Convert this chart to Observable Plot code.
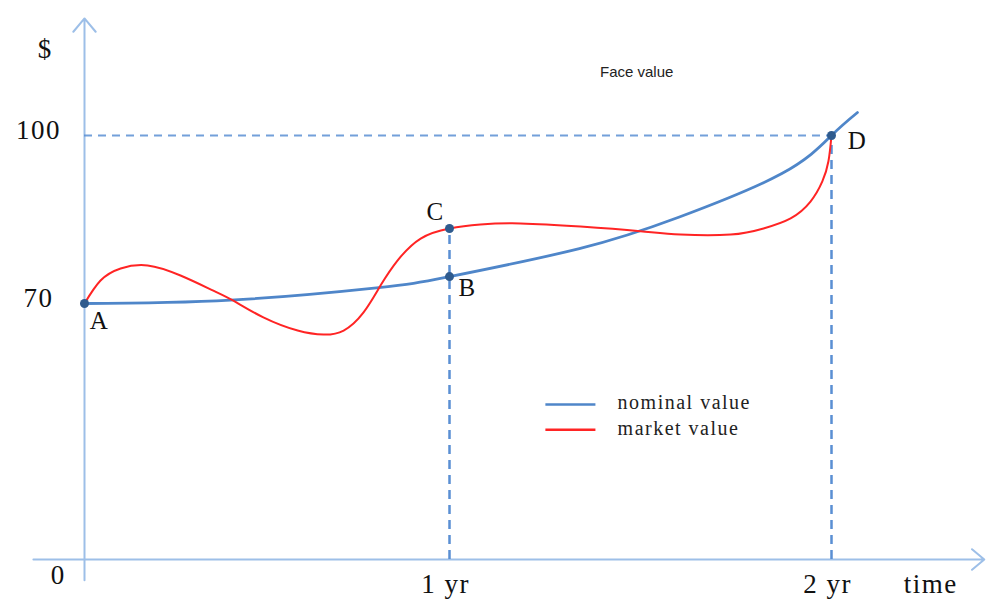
<!DOCTYPE html>
<html><head><meta charset="utf-8">
<script src="https://cdn.jsdelivr.net/npm/d3@7"></script>
<script src="https://cdn.jsdelivr.net/npm/@observablehq/plot@0.6"></script>
<style>
html,body{margin:0;padding:0;background:#fff;}
#chart svg{display:block;background:#fff;}
.wide text{letter-spacing:1.5px;}
</style></head><body><div id="chart"></div>
<script>
// ---- data (time in years, value in $) ----
const nominalT = [0, 0.4, 0.8, 1.0, 1.34, 1.6, 1.87, 2.0, 2.068];
const nominalV = [70, 70.6, 72.8, 74.8, 79.8, 85.4, 93.2, 100, 104.1];

const marketT = [0, 0.044, 0.099, 0.173, 0.263, 0.353, 0.408, 0.490, 0.584, 0.655, 0.710, 0.764, 0.811, 0.858, 0.921, 1.0, 1.081, 1.186, 1.343, 1.5, 1.605, 1.736, 1.822, 1.893, 1.945, 1.976, 1.992, 2.0];
const marketV = [70, 74.1, 76.25, 76.8, 75.0, 72.3, 70.5, 66.2, 62.6, 61.5, 62.6, 67.5, 73.2, 77.7, 81.6, 83.4, 84.1, 84.3, 83.75, 82.9, 82.3, 82.3, 83.4, 85.2, 88.2, 91.8, 95.4, 100];

const pointLabels = ["A", "B", "C", "D"];
const pointT = [0, 1, 1, 2];
const pointV = [70, 74.8, 83.4, 100];

const yTickValues = [100, 70];
const yTickLabels = ["100", "70"];
const xTickValues = [1, 2];
const xTickLabels = ["1 yr", "2 yr"];

const faceValue = 100;
const xAxisExtent = [-0.14, 2.40];
const yAxisExtent = [-5.7, 120.9];

const legendLabels = ["nominal value", "market value"];
const legendColors = ["#4f86c9", "#ff2424"];
const legendT = [1.251, 1.382];
const legendV = [42.4, 35.5];
const legendTextT = 1.44;

// ---- build tables ----
const nominal = nominalT.map((t, i) => ({t, v: nominalV[i]}));
const market = marketT.map((t, i) => ({t, v: marketV[i]}));
const points = pointLabels.map((label, i) => ({label, t: pointT[i], v: pointV[i]}));
const legend = legendLabels.map((label, i) => ({label, color: legendColors[i], v: legendV[i]}));

const axisColor = "#9dbfe8";
const dashColor = "#5a8fd3";
const serif = "Liberation Serif, Times New Roman, serif";

// schematic (broken) axes: piecewise-linear spacing between the marked values
const xWarp = t => t <= 1 ? t * 365 : 365 + (t - 1) * 382;
const yWarp = v => v <= 70 ? v * 3.657 : 256 + (v - 70) * 5.6;

const labelOffsets = {A: [15, 25], B: [18, 19], C: [-14, -8], D: [26, 13]};

const chart = Plot.plot({
  width: 987,
  height: 599,
  margin: 0,
  x: {transform: xWarp, domain: [0, 747], range: [84, 831], axis: null},
  y: {transform: yWarp, domain: [0, 424], range: [559, 135], axis: null},
  marks: [
    // axes
    Plot.arrow([0], {x1: xAxisExtent[0], x2: xAxisExtent[1], y1: 0, y2: 0, stroke: axisColor, strokeWidth: 2, headLength: 12, headAngle: 80}),
    Plot.arrow([0], {x1: 0, x2: 0, y1: yAxisExtent[0], y2: yAxisExtent[1], stroke: axisColor, strokeWidth: 2, headLength: 13, headAngle: 80}),
    // dashed guides
    Plot.ruleY([faceValue], {x1: 0, x2: 2, stroke: dashColor, strokeWidth: 2, strokeDasharray: "8,6", strokeOpacity: 0.85}),
    Plot.ruleX([points[2]], {x: "t", y1: 0, y2: "v", stroke: dashColor, strokeWidth: 2.5, strokeDasharray: "9,6"}),
    Plot.ruleX([points[3]], {x: "t", y1: 0, y2: "v", stroke: dashColor, strokeWidth: 2.5, strokeDasharray: "9,6"}),
    // curves
    Plot.line(nominal, {x: "t", y: "v", stroke: legendColors[0], strokeWidth: 2.8, curve: "natural"}),
    Plot.line(market, {x: "t", y: "v", stroke: legendColors[1], strokeWidth: 2, curve: "natural"}),
    // key points
    Plot.dot(points, {x: "t", y: "v", r: 4.5, fill: "#2f5b8e"}),
    ...points.map(p => Plot.text([p], {x: "t", y: "v", text: "label", dx: labelOffsets[p.label][0], dy: labelOffsets[p.label][1], lineAnchor: "bottom", fontFamily: serif, fontSize: 25, fill: "#111", className: "wide"})),
    // tick labels
    Plot.text(yTickValues, {x: 0, y: d => d, text: (d, i) => yTickLabels[i], dx: -46, dy: 3, lineAnchor: "bottom", fontFamily: serif, fontSize: 27, fill: "#111", className: "wide"}),
    Plot.text(xTickValues, {x: d => d, y: 0, text: (d, i) => xTickLabels[i], dx: -4, dy: 33, lineAnchor: "bottom", fontFamily: serif, fontSize: 27, fill: "#111", className: "wide"}),
    Plot.text(["0"], {x: 0, y: 0, text: d => d, dx: -27, dy: 24, lineAnchor: "bottom", fontFamily: serif, fontSize: 27, fill: "#111"}),
    Plot.text(["$"], {x: 0, y: 113.8, text: d => d, dx: -40, lineAnchor: "bottom", fontFamily: serif, fontSize: 27, fill: "#111"}),
    Plot.text(["time"], {x: 2.26, y: 0, text: d => d, dy: 33, lineAnchor: "bottom", fontFamily: serif, fontSize: 27, fill: "#111", className: "wide"}),
    Plot.text(["Face value"], {x: 1.49, y: 110.4, text: d => d, lineAnchor: "bottom", fontFamily: "Liberation Sans, Arial, sans-serif", fontSize: 15, fill: "#222"}),
    // legend
    Plot.link(legend, {x1: legendT[0], x2: legendT[1], y1: "v", y2: "v", stroke: "color", strokeWidth: 2.5}),
    Plot.text(legend, {x: legendTextT, y: "v", text: "label", dy: 5, textAnchor: "start", lineAnchor: "bottom", fontFamily: serif, fontSize: 20, fill: "#222", className: "wide"})
  ]
});
document.getElementById("chart").appendChild(chart);
</script>
</body></html>
